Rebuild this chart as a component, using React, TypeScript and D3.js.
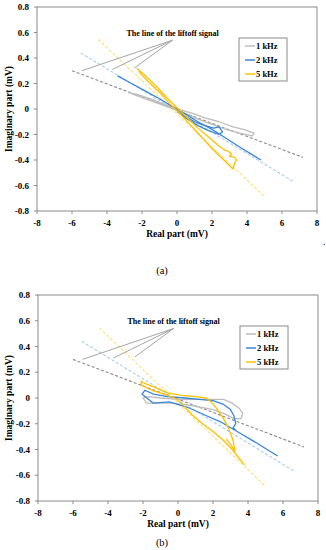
import React from 'react';
import * as d3 from 'd3';

type Pt = [number, number];

// axis ticks
const xTicks = [-8, -6, -4, -2, 0, 2, 4, 6, 8];
const yTicks = [0.8, 0.6, 0.4, 0.2, 0, -0.2, -0.4, -0.6, -0.8];
const yTickLabels = ['0.8', '0.6', '0.4', '0.2', '0', '-0.2', '-0.4', '-0.6', '-0.8'];

const freqs = ['1 kHz', '2 kHz', '5 kHz'];
const solidColors = ['#bdbdbd', '#3a86d8', '#ffc000'];
const dashColors = ['#8a8a8a', '#a9cbec', '#ffdc70'];

// liftoff lines (dashed), same in both panels
const liftoff1k: Pt[] = [[-6, 0.3], [7.2, -0.38]];
const liftoff2k: Pt[] = [[-5.5, 0.44], [6.6, -0.565]];
const liftoff5k: Pt[] = [[-4.5, 0.545], [4.95, -0.68]];

// annotation leader targets + origin
const noteFrom: Pt = [-0.25, 0.54];
const noteTo: Pt[] = [[-5.45, 0.3], [-3.7, 0.31], [-2.45, 0.32]];

// panel (a) signals
const a1k: Pt[] = [
  [-2.8, 0.13], [-2.2, 0.11], [-1.5, 0.08], [-0.8, 0.04], [0, 0.0], [0.8, -0.03],
  [1.6, -0.07], [2.4, -0.1], [3.2, -0.14], [3.8, -0.16], [4.4, -0.19], [4.3, -0.21],
  [3.6, -0.19], [2.8, -0.16], [2.0, -0.12], [1.2, -0.08], [0.4, -0.03], [-0.4, 0.01],
  [-1.2, 0.05], [-2.0, 0.09], [-2.6, 0.12],
];
const a2k: Pt[] = [
  [-3.4, 0.26], [-2.6, 0.2], [-1.8, 0.14], [-1.0, 0.08], [-0.4, 0.03], [0, 0.0],
  [0.6, -0.05], [1.2, -0.1], [2.0, -0.16], [2.8, -0.23], [3.6, -0.3], [4.2, -0.35],
  [4.8, -0.4],
];
const a2kLoop: Pt[] = [
  [0, 0.0], [0.5, -0.06], [1.0, -0.1], [1.6, -0.13], [2.1, -0.15], [2.4, -0.14],
  [2.6, -0.18], [2.4, -0.2], [1.8, -0.17], [1.2, -0.13], [0.6, -0.08], [0, -0.02],
];
const a5k: Pt[] = [
  [-2.3, 0.32], [-1.8, 0.26], [-1.2, 0.18], [-0.6, 0.09], [0, 0.01], [0.6, -0.07],
  [1.2, -0.15], [1.8, -0.22], [2.4, -0.29], [2.7, -0.32], [2.9, -0.33], [3.1, -0.35],
  [3.0, -0.37], [3.3, -0.38], [3.4, -0.4], [3.3, -0.42], [3.2, -0.47], [2.6, -0.39],
  [2.0, -0.31], [1.4, -0.22], [0.8, -0.13], [0.2, -0.04], [-0.4, 0.04], [-1.0, 0.13],
  [-1.6, 0.21], [-2.1, 0.28], [-2.2, 0.31],
];

// panel (b) signals
const b1k: Pt[] = [
  [-1.8, -0.04], [-2.0, 0.0], [-1.7, 0.01], [-1.0, 0.0], [0, -0.01], [1.0, -0.01],
  [2.0, -0.01], [2.6, -0.01], [3.1, -0.04], [3.5, -0.08], [3.7, -0.12], [3.6, -0.16],
  [3.2, -0.16], [2.6, -0.12], [2.0, -0.09], [1.2, -0.07], [0.4, -0.05], [-0.4, -0.04],
  [-1.2, -0.04], [-1.8, -0.04],
];
const b2k: Pt[] = [
  [3.3, -0.25], [3.15, -0.23], [3.3, -0.2], [3.2, -0.14], [3.0, -0.09], [2.6, -0.05],
  [2.0, -0.02], [1.2, -0.01], [0.4, 0.0], [-0.6, 0.01], [-1.4, 0.03], [-1.9, 0.06],
  [-2.05, 0.03], [-1.4, -0.04], [-0.5, -0.03], [0.5, -0.07], [1.5, -0.13], [2.5, -0.19],
  [3.5, -0.27], [4.5, -0.35], [5.2, -0.41], [5.7, -0.45],
];
const b5k: Pt[] = [
  [2.75, -0.32], [3.0, -0.36], [3.25, -0.41], [3.15, -0.33], [2.9, -0.24], [2.6, -0.16],
  [2.2, -0.08], [1.9, -0.03], [1.6, 0.0], [1.0, 0.01], [0.2, 0.02], [-0.6, 0.04],
  [-1.3, 0.08], [-2.0, 0.12], [-2.1, 0.13], [-2.1, 0.1], [-1.5, 0.06], [-0.8, 0.03],
  [-0.2, 0.0], [0.2, -0.04], [0.8, -0.13], [1.4, -0.2], [2.0, -0.26], [2.6, -0.33],
  [3.1, -0.4], [3.5, -0.47], [3.8, -0.52],
];

const font = '"Liberation Serif", "Times New Roman", serif';

function Panel({top, left, right, bottom, label, labelY, solids}: {
  top: number; left: number; right: number; bottom: number; label: string; labelY: number; solids: Pt[][][];
}) {
  const x = d3.scaleLinear().domain([-8, 8]).range([left, right]);
  const y = d3.scaleLinear().domain([-0.8, 0.8]).range([bottom, top]);
  const line = d3.line<Pt>().x((d) => x(d[0])).y((d) => y(d[1]));
  const dashed = [liftoff1k, liftoff2k, liftoff5k];

  return (
    <g>
      <rect x={left} y={top} width={right - left} height={bottom - top} fill="none" stroke="#8a8a8a" strokeWidth={1} />
      {yTicks.map((t, i) => (
        <g key={'y' + i}>
          <line x1={left - 3} x2={left} y1={y(t)} y2={y(t)} stroke="#8a8a8a" />
          <text x={left - 8} y={y(t)} dy="0.35em" textAnchor="end" fontSize={9} fontWeight="bold">{yTickLabels[i]}</text>
        </g>
      ))}
      {xTicks.map((t, i) => (
        <g key={'x' + i}>
          <line x1={x(t)} x2={x(t)} y1={bottom} y2={bottom + 3} stroke="#8a8a8a" />
          <text x={x(t)} y={bottom + 12} dy="0.35em" textAnchor="middle" fontSize={9} fontWeight="bold">{t}</text>
        </g>
      ))}
      <text x={x(0)} y={bottom + 23} dy="0.35em" textAnchor="middle" fontSize={9.5} fontWeight="bold">Real part (mV)</text>
      <text transform={`translate(9,${y(0)}) rotate(-90)`} textAnchor="middle" dy="0.35em" fontSize={9.5} fontWeight="bold">Imaginary part (mV)</text>

      {dashed.map((d, i) => (
        <path key={'d' + i} d={line(d) || ''} fill="none" stroke={dashColors[i]} strokeWidth={1.1} strokeDasharray="3,2" />
      ))}
      {solids.map((group, i) => group.map((s, j) => (
        <path key={'s' + i + j} d={line(s) || ''} fill="none" stroke={solidColors[i]} strokeWidth={1.3} strokeLinejoin="round" />
      )))}

      {noteTo.map((p, i) => (
        <line key={'n' + i} x1={x(noteFrom[0])} y1={y(noteFrom[1])} x2={x(p[0])} y2={y(p[1])} stroke="#a6a6a6" strokeWidth={1} />
      ))}
      <text x={x(noteFrom[0])} y={y(noteFrom[1]) - 7} dy="0.35em" textAnchor="middle" fontSize={8} fontWeight="bold">The line of the liftoff signal</text>

      <g transform={`translate(${right - 78},${top + 31})`}>
        <rect x={0} y={0} width={48} height={43} fill="#fff" stroke="#8a8a8a" />
        {freqs.map((f, i) => (
          <g key={f} transform={`translate(0,${8 + i * 14})`}>
            <line x1={6} x2={16} y1={0} y2={0} stroke={solidColors[i]} strokeWidth={1.5} />
            <text x={17} y={0} dy="0.35em" fontSize={8.5} fontWeight="bold">{f}</text>
          </g>
        ))}
      </g>

      <text x={162} y={labelY} dy="0.35em" textAnchor="middle" fontSize={10.5}>{label}</text>
    </g>
  );
}

export default function App() {
  return (
    <svg width={326} height={550} style={{position: 'absolute', left: 0, top: 0, background: '#fff'}} fontFamily={font}>
      <Panel top={7} left={37} right={317} bottom={211} label="(a)" labelY={270} solids={[[a1k], [a2k, a2kLoop], [a5k]]} />
      <text x={323} y={245} fontSize={10}>.</text>
      <Panel top={295} left={38} right={318} bottom={501} label="(b)" labelY={542} solids={[[b1k], [b2k], [b5k]]} />
    </svg>
  );
}
